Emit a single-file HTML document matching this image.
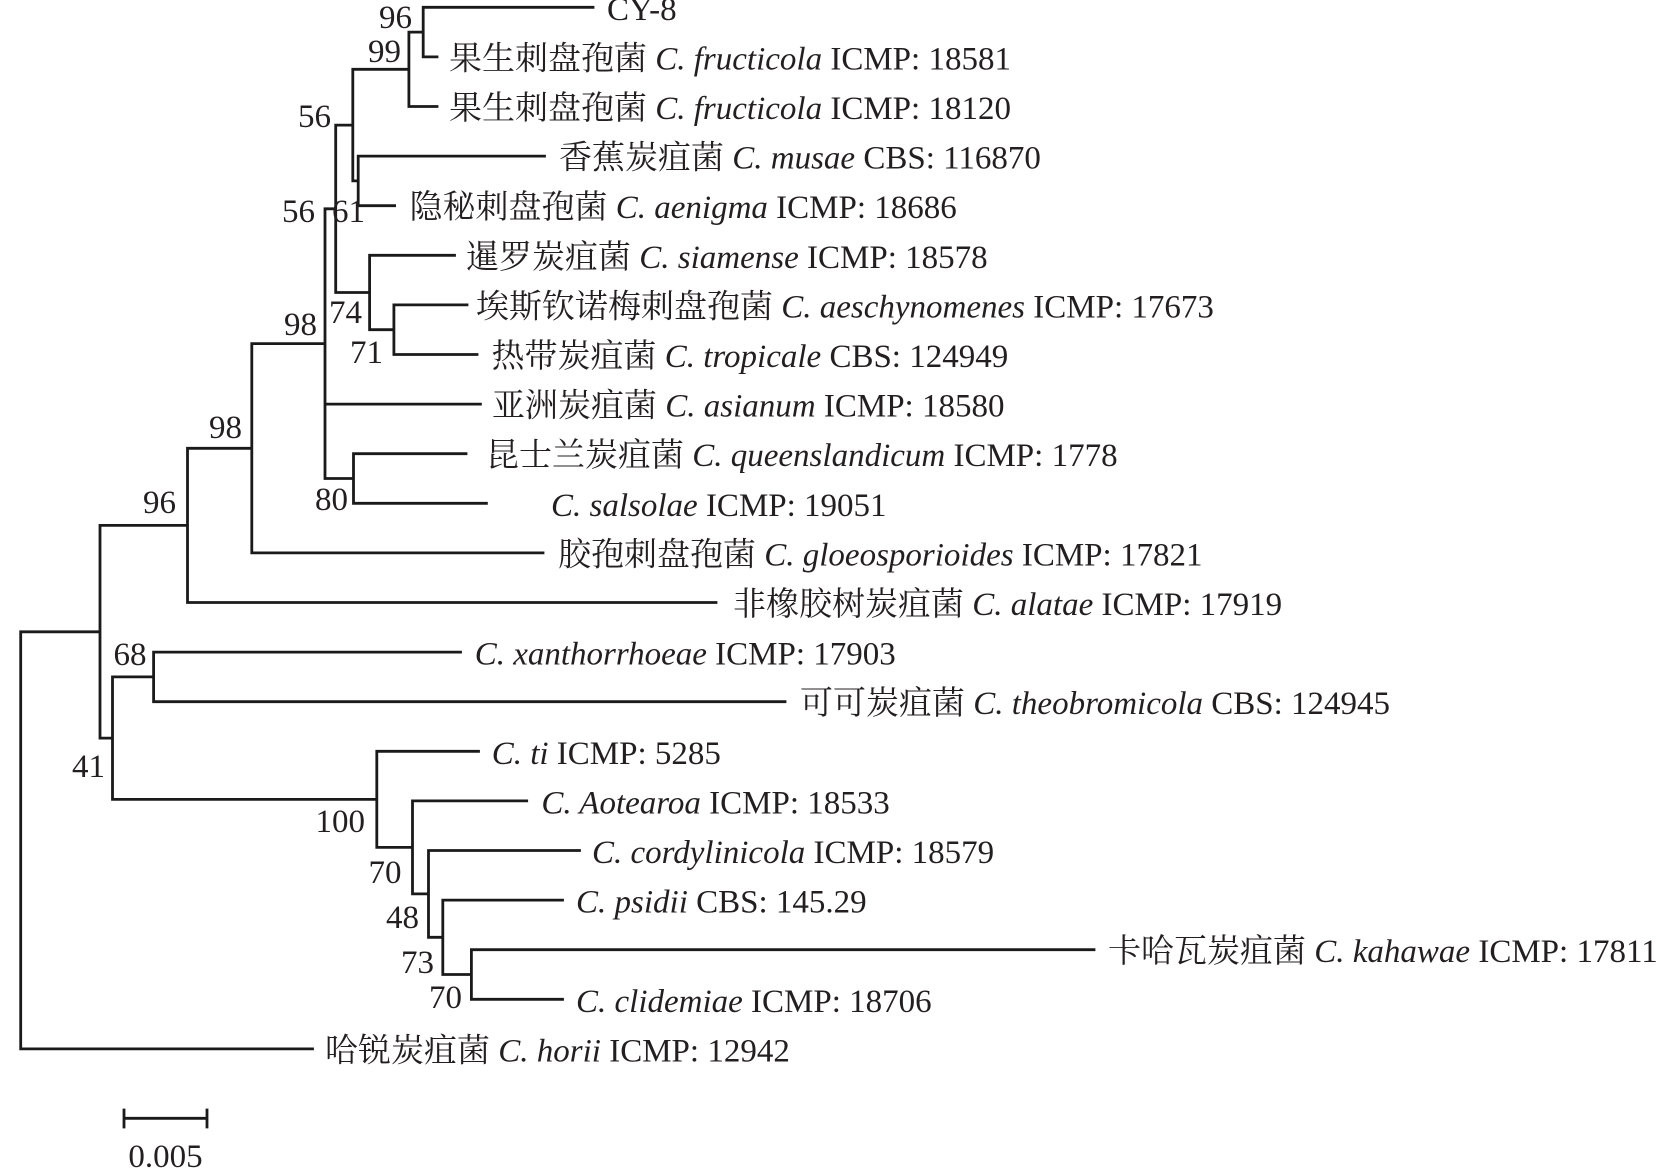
<!DOCTYPE html>
<html>
<head>
<meta charset="utf-8">
<style>
html,body{margin:0;padding:0;background:#fff;}
svg{display:block;}
text{font-family:"Liberation Serif","Noto Serif CJK SC","Noto Sans CJK SC",serif;font-size:33px;fill:#231f20;}
</style>
</head>
<body>
<svg width="1658" height="1176" viewBox="0 0 1658 1176" xmlns="http://www.w3.org/2000/svg">
<rect width="1658" height="1176" fill="#fff"/>
<path fill="none" stroke="#1a1a1a" stroke-width="2.8" stroke-linecap="square" d="
M423.2 7.3 H593
M423.2 56.9 H437
M408.9 106.5 H437
M358.2 156.1 H544.5
M358.2 205.7 H394.6
M369.6 255.3 H454.5
M393.9 304.9 H467
M393.9 354.5 H477
M325 404.1 H480.4
M353.5 453.7 H466
M353.5 503.3 H486.4
M251.8 552.9 H543
M187.5 602.5 H716
M153.6 652.1 H460.5
M153.6 701.7 H785
M376.8 751.3 H478.5
M412.5 800.9 H526.7
M428.5 850.5 H579.5
M442.8 900.1 H562.5
M471.4 949.7 H1094
M471.4 999.3 H562.5
M20.7 1048.9 H312.5
M408.9 32.1 H423.2
M352.8 69.3 H408.9
M352.8 180.9 H358.2
M335.7 125.1 H352.8
M369.6 329.7 H393.9
M335.7 292.5 H369.6
M325 208.8 H335.7
M325 478.5 H353.5
M251.8 343.6 H325
M187.5 448.3 H251.8
M100 525.4 H187.5
M112.5 676.9 H153.6
M442.8 974.5 H471.4
M428.5 937.3 H442.8
M412.5 893.9 H428.5
M376.8 847.4 H412.5
M112.5 799.4 H376.8
M100 738.1 H112.5
M20.7 631.8 H100
M423.2 7.3 V56.9
M408.9 32.1 V106.5
M358.2 156.1 V205.7
M352.8 69.3 V180.9
M393.9 304.9 V354.5
M369.6 255.3 V329.7
M335.7 125.1 V292.5
M353.5 453.7 V503.3
M325 208.8 V478.5
M251.8 343.6 V552.9
M187.5 448.3 V602.5
M153.6 652.1 V701.7
M471.4 949.7 V999.3
M442.8 900.1 V974.5
M428.5 850.5 V937.3
M412.5 800.9 V893.9
M376.8 751.3 V847.4
M112.5 676.9 V799.4
M100 525.4 V738.1
M20.7 631.8 V1048.9
M124 1118.3 H207
M124 1110 V1127
M207 1110 V1127
"/>

<!-- leaf labels -->
<text x="607" y="19.8">CY-8</text>
<text x="449" y="69.4">果生刺盘孢菌 <tspan font-style="italic">C. fructicola</tspan> ICMP: 18581</text>
<text x="449" y="119">果生刺盘孢菌 <tspan font-style="italic">C. fructicola</tspan> ICMP: 18120</text>
<text x="559" y="168.6">香蕉炭疽菌 <tspan font-style="italic">C. musae</tspan> CBS: 116870</text>
<text x="409.5" y="218.2">隐秘刺盘孢菌 <tspan font-style="italic">C. aenigma</tspan> ICMP: 18686</text>
<text x="466" y="267.8">暹罗炭疽菌 <tspan font-style="italic">C. siamense</tspan> ICMP: 18578</text>
<text x="476" y="317.4">埃斯钦诺梅刺盘孢菌 <tspan font-style="italic">C. aeschynomenes</tspan> ICMP: 17673</text>
<text x="491.5" y="367">热带炭疽菌 <tspan font-style="italic">C. tropicale</tspan> CBS: 124949</text>
<text x="492" y="416.6">亚洲炭疽菌 <tspan font-style="italic">C. asianum</tspan> ICMP: 18580</text>
<text x="486" y="466.2">昆士兰炭疽菌 <tspan font-style="italic">C. queenslandicum</tspan> ICMP: 1778</text>
<text x="551" y="515.8"><tspan font-style="italic">C. salsolae</tspan> ICMP: 19051</text>
<text x="558" y="565.4">胶孢刺盘孢菌 <tspan font-style="italic">C. gloeosporioides</tspan> ICMP: 17821</text>
<text x="733" y="615">非橡胶树炭疽菌 <tspan font-style="italic">C. alatae</tspan> ICMP: 17919</text>
<text x="474.7" y="664.6"><tspan font-style="italic">C. xanthorrhoeae</tspan> ICMP: 17903</text>
<text x="800" y="714.2">可可炭疽菌 <tspan font-style="italic">C. theobromicola</tspan> CBS: 124945</text>
<text x="491.7" y="763.8"><tspan font-style="italic">C. ti</tspan> ICMP: 5285</text>
<text x="541.4" y="813.4"><tspan font-style="italic">C. Aotearoa</tspan> ICMP: 18533</text>
<text x="592" y="863"><tspan font-style="italic">C. cordylinicola</tspan> ICMP: 18579</text>
<text x="576" y="912.6"><tspan font-style="italic">C. psidii</tspan> CBS: 145.29</text>
<text x="1108" y="962.2">卡哈瓦炭疽菌 <tspan font-style="italic">C. kahawae</tspan> ICMP: 17811</text>
<text x="576" y="1011.8"><tspan font-style="italic">C. clidemiae</tspan> ICMP: 18706</text>
<text x="325" y="1061.4">哈锐炭疽菌 <tspan font-style="italic">C. horii</tspan> ICMP: 12942</text>

<!-- bootstrap values -->
<g text-anchor="end">
<text x="412" y="28">96</text>
<text x="401" y="62">99</text>
<text x="331" y="127">56</text>
<text x="315" y="222">56</text>
<text x="365" y="222">61</text>
<text x="362" y="323">74</text>
<text x="383" y="363">71</text>
<text x="317" y="335">98</text>
<text x="242" y="438">98</text>
<text x="348" y="510">80</text>
<text x="176" y="513">96</text>
<text x="146.5" y="665">68</text>
<text x="105" y="777">41</text>
<text x="365" y="832">100</text>
<text x="401.5" y="883">70</text>
<text x="419" y="928">48</text>
<text x="434" y="973">73</text>
<text x="462" y="1008">70</text>
</g>

<text x="165.5" y="1167" text-anchor="middle">0.005</text>
</svg>
</body>
</html>
